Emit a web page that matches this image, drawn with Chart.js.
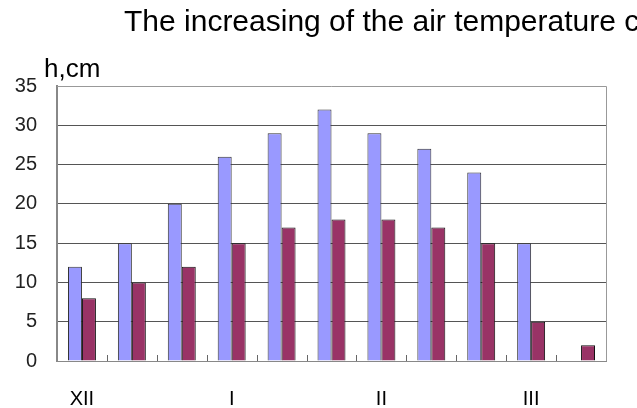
<!DOCTYPE html>
<html lang="en">
<head>
    <meta charset="UTF-8">
    <title>Air temperature bars</title>
    <script src="https://cdn.jsdelivr.net/npm/chart.js"></script>
    <style>
        body { margin: 0; background: #fff; }
    </style>
</head>
<body>
    <canvas id="tempChart" width="637" height="408"></canvas>

    <script>
        // data
        var categories = ['1', '2', '3', '4', '5', '6', '7', '8', '9', '10', '11'];
        var tickLabels = ['XII', '', '', 'I', '', '', 'II', '', '', 'III', ''];
        var seriesA = [12, 15, 20, 26, 29, 32, 29, 27, 24, 15, null];
        var seriesB = [8, 10, 12, 15, 17, 18, 18, 17, 15, 5, 2];

        // title, axis name and small tick marks between the groups
        var decorPlugin = {
            id: 'decor',
            afterDraw: function (chart) {
                var c = chart.ctx;
                var area = chart.chartArea;
                var x = chart.scales.x;
                c.save();
                c.fillStyle = '#000';
                c.textBaseline = 'alphabetic';
                c.textAlign = 'left';
                c.font = '30px Arial, "Liberation Sans", sans-serif';
                c.fillText('The increasing of the air temperature c', 124, 31);
                c.font = '26px Arial, "Liberation Sans", sans-serif';
                c.fillText('h,cm', 44, 77);

                // frame top and right
                c.strokeStyle = '#999';
                c.lineWidth = 1;
                c.beginPath();
                c.moveTo(area.left, area.top + 0.5);
                c.lineTo(area.right + 0.5, area.top + 0.5);
                c.lineTo(area.right + 0.5, area.bottom);
                c.stroke();

                // tick marks at group boundaries
                c.strokeStyle = '#666';
                var half = (x.getPixelForValue(1) - x.getPixelForValue(0)) / 2;
                c.beginPath();
                for (var i = 1; i < categories.length; i++) {
                    var px = Math.round(x.getPixelForValue(i) - half) + 0.5;
                    c.moveTo(px, area.bottom);
                    c.lineTo(px, area.bottom - 6);
                }
                c.stroke();
                c.restore();
            }
        };

        var ctx = document.getElementById('tempChart').getContext('2d');
        var tempChart = new Chart(ctx, {
            type: 'bar',
            data: {
                labels: categories,
                datasets: [{
                    label: 'A',
                    data: seriesA,
                    backgroundColor: '#9999FF',
                    borderColor: '#333',
                    borderWidth: 1
                }, {
                    label: 'B',
                    data: seriesB,
                    backgroundColor: '#993366',
                    borderColor: '#111',
                    borderWidth: 1
                }]
            },
            options: {
                responsive: false,
                animation: false,
                layout: { padding: { top: 86, right: 31, left: 0, bottom: 0 } },
                categoryPercentage: 0.56,
                barPercentage: 1,
                plugins: {
                    legend: { display: false },
                    tooltip: { enabled: false }
                },
                scales: {
                    x: {
                        grid: { display: false },
                        border: { color: '#888', width: 1 },
                        ticks: {
                            autoSkip: false,
                            maxRotation: 0,
                            padding: 18,
                            color: '#000',
                            font: { family: 'Arial, "Liberation Sans", sans-serif', size: 20 },
                            callback: function (v, i) { return tickLabels[i]; }
                        },
                        afterFit: function (s) { s.height = 47; }
                    },
                    y: {
                        min: 0,
                        max: 35,
                        ticks: {
                            stepSize: 5,
                            padding: 20,
                            color: '#222',
                            font: { family: 'Arial, "Liberation Sans", sans-serif', size: 20 }
                        },
                        grid: {
                            color: function (c) { return c.tick.value === 35 ? 'rgba(0,0,0,0)' : '#555'; },
                            drawTicks: false
                        },
                        border: { color: '#888', width: 2 },
                        afterFit: function (s) { s.width = 57; }
                    }
                }
            },
            plugins: [decorPlugin]
        });
    </script>
</body>
</html>
